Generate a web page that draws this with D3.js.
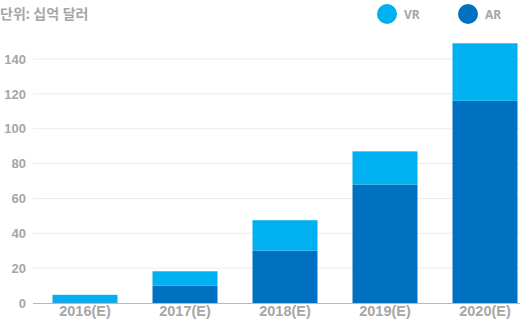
<!DOCTYPE html>
<html>
<head>
<meta charset="utf-8">
<script src="https://cdn.jsdelivr.net/npm/d3@7"></script>
<style>
  body { margin: 0; background: #fff; }
  svg { display: block; font-family: "Noto Sans", "Noto Sans CJK KR", sans-serif; }
</style>
</head>
<body>
<svg id="chart"></svg>
<script>
const years = ["2016(E)", "2017(E)", "2018(E)", "2019(E)", "2020(E)"];
const arValues = [0.4, 10, 30, 68, 116];
const vrValues = [4.3, 8.2, 17.5, 19, 33];
const yTicks = [0, 20, 40, 60, 80, 100, 120, 140];
const seriesNames = ["VR", "AR"];

const width = 520, height = 324;
const svg = d3.select("#chart").attr("width", width).attr("height", height);

const VR_COLOR = "#00b0f0", AR_COLOR = "#0070c0", TEXT = "#a6a6a6";

const x = d3.scaleBand()
    .domain(years)
    .range([35, 535])
    .paddingInner(0.35)
    .paddingOuter(0.175);

const y = d3.scaleLinear()
    .domain([0, 140])
    .range([303, 59]);

// gridlines
svg.append("g")
    .selectAll("line")
    .data(yTicks.filter(d => d > 0))
    .join("line")
    .attr("x1", 33).attr("x2", width)
    .attr("y1", d => y(d)).attr("y2", d => y(d))
    .attr("stroke", "#ececec")
    .attr("stroke-width", 1);

// y axis labels
const yAxis = svg.append("g")
    .attr("transform", "translate(33,0)")
    .call(d3.axisLeft(y).tickValues(yTicks).tickSize(0).tickPadding(7));
yAxis.select(".domain").remove();
yAxis.selectAll("text")
    .attr("fill", TEXT)
    .style("font-size", "13px")
    .style("font-weight", "bold");

// stacked bars
const rows = years.map((yr, i) => ({ year: yr, AR: arValues[i], VR: vrValues[i] }));
const stack = d3.stack().keys(["AR", "VR"])(rows);
const colors = { AR: AR_COLOR, VR: VR_COLOR };

svg.append("g")
    .selectAll("g")
    .data(stack)
    .join("g")
    .attr("fill", d => colors[d.key])
    .selectAll("rect")
    .data(d => d)
    .join("rect")
    .attr("x", d => x(d.data.year))
    .attr("width", x.bandwidth())
    .attr("y", d => y(d[1]))
    .attr("height", d => y(d[0]) - y(d[1]));

// x axis
const xAxis = svg.append("g")
    .attr("transform", "translate(0,303)")
    .call(d3.axisBottom(x).tickSize(0).tickPadding(3));
xAxis.select(".domain").remove();
xAxis.selectAll("text")
    .attr("fill", TEXT)
    .style("font-size", "14.5px")
    .style("font-weight", "bold");

svg.append("line")
    .attr("x1", 33).attr("x2", width)
    .attr("y1", 303.5).attr("y2", 303.5)
    .attr("stroke", "#b8b8b8")
    .attr("stroke-width", 1);

// unit title
svg.append("text")
    .attr("x", 0).attr("y", 19)
    .attr("fill", TEXT)
    .style("font-size", "14px")
    .style("font-weight", "bold")
    .text("단위: 십억 달러");

// legend
const legend = svg.append("g")
    .selectAll("g")
    .data(seriesNames)
    .join("g")
    .attr("transform", (d, i) => `translate(${387 + i * 81},14)`);

legend.append("circle")
    .attr("r", 10)
    .attr("fill", d => d === "VR" ? VR_COLOR : AR_COLOR);

legend.append("text")
    .attr("x", 17).attr("y", 4.5)
    .attr("fill", TEXT)
    .style("font-size", "12px")
    .style("font-weight", "bold")
    .text(d => d);
</script>
</body>
</html>
